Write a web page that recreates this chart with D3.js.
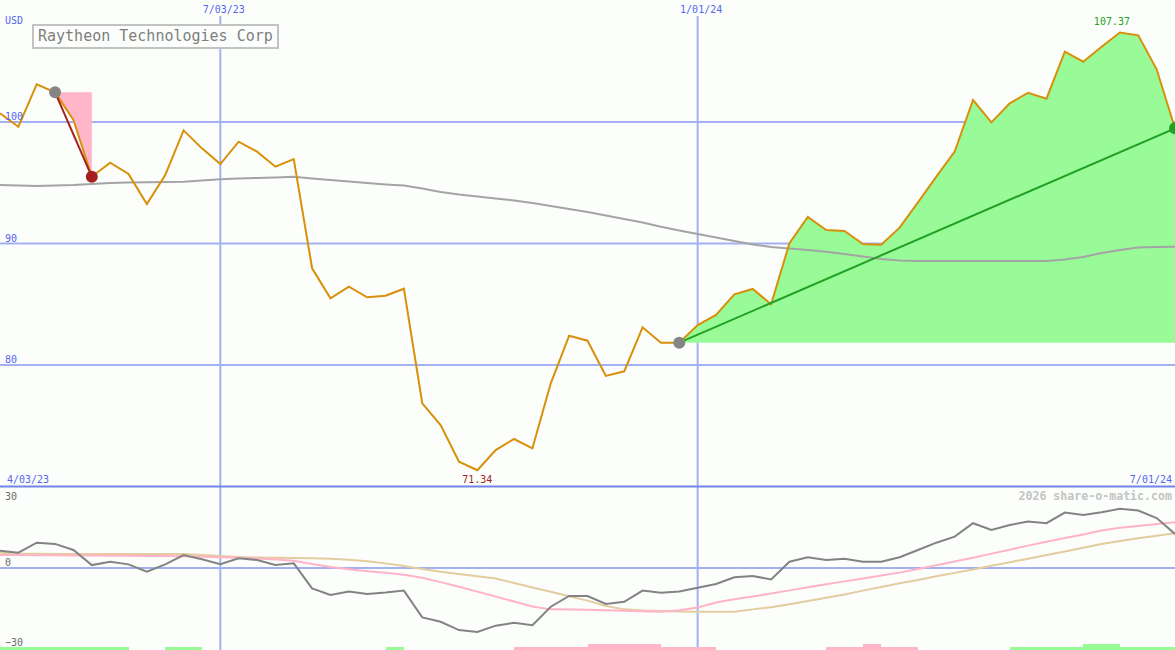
<!DOCTYPE html>
<html><head><meta charset="utf-8">
<script src="https://cdn.jsdelivr.net/npm/d3@7"></script>
<style>
html,body{margin:0;padding:0;background:#fbfefb;}
svg{display:block;}
text{font-family:"DejaVu Sans Mono","Liberation Mono",monospace;}
</style></head>
<body>
<svg id="chart" width="1175" height="650"></svg>
<script>
// ---- data (weekly, index 0..64) ----
const title = "Raytheon Technologies Corp";
const currency = "USD";
const dateLabels = ["4/03/23", "7/03/23", "1/01/24", "7/01/24"];
const dateIndex = [0, 12, 38, 64];
const priceTicks = [100, 90, 80];
const oscTicks = [30, 0, -30];

const price = [100.72, 99.61, 103.1, 102.44, 100.16, 95.5, 96.65, 95.72, 93.25, 95.64,
  99.31, 97.83, 96.54, 98.38, 97.56, 96.32, 96.95, 87.96, 85.49, 86.44,
  85.57, 85.70, 86.28, 76.85, 75.06, 72.04, 71.34, 73.0, 73.91, 73.14,
  78.49, 82.41, 82.0, 79.1, 79.48, 83.1, 81.84, 81.84, 83.29, 84.12,
  85.82, 86.26, 85.0, 90.02, 92.18, 91.11, 91.03, 89.96, 89.9, 91.3,
  93.39, 95.5, 97.56, 101.81, 99.97, 101.54, 102.41, 101.92, 105.79, 104.96,
  106.2, 107.37, 107.13, 104.34, 99.48];

const movingAvg = [94.81, 94.77, 94.73, 94.77, 94.81, 94.90, 94.98, 95.02, 95.04, 95.06,
  95.09, 95.19, 95.28, 95.35, 95.39, 95.43, 95.50, 95.35, 95.23, 95.10,
  94.98, 94.86, 94.77, 94.53, 94.24, 94.03, 93.87, 93.70, 93.54, 93.33,
  93.09, 92.84, 92.59, 92.30, 92.02, 91.73, 91.38, 91.07, 90.78, 90.49,
  90.21, 89.92, 89.71, 89.59, 89.47, 89.33, 89.14, 88.93, 88.72, 88.60,
  88.56, 88.56, 88.56, 88.56, 88.56, 88.56, 88.56, 88.56, 88.68, 88.89,
  89.22, 89.47, 89.67, 89.71, 89.74];

const momentum = [7.1, 6.3, 10.4, 9.9, 7.4, 1.2, 2.6, 1.5, -1.5, 1.5,
  5.3, 3.6, 1.6, 4.0, 3.3, 1.2, 1.9, -8.4, -11.1, -9.7,
  -10.7, -10.1, -9.3, -20.3, -22.1, -25.5, -26.3, -23.7, -22.5, -23.5,
  -15.9, -11.5, -11.5, -14.8, -13.9, -9.3, -10.2, -9.7, -8.1, -6.6,
  -3.8, -3.3, -4.7, 2.6, 4.4, 3.3, 3.8, 2.6, 2.6, 4.4,
  7.4, 10.4, 12.9, 18.4, 15.6, 17.7, 19.1, 18.4, 22.8, 21.8,
  22.9, 24.3, 23.6, 20.5, 14.0];

const signalFast = [5.3, 5.3, 5.2, 5.2, 5.1, 5.1, 5.0, 5.0, 4.9, 4.9,
  4.8, 4.6, 4.4, 4.2, 3.9, 3.5, 3.0, 1.6, 0.4, -0.5,
  -1.3, -2.0, -2.8, -4.0, -5.8, -7.7, -9.7, -11.7, -13.8, -15.8,
  -17.0, -17.1, -17.2, -17.4, -17.6, -17.8, -18.0, -17.4, -16.2, -14.2,
  -12.8, -11.7, -10.5, -9.2, -7.9, -6.7, -5.5, -4.3, -3.1, -1.9,
  -0.4, 1.1, 2.7, 4.2, 5.9, 7.5, 9.2, 10.8, 12.3, 13.8,
  15.4, 16.5, 17.3, 18.1, 18.8];

const signalSlow = [6.3, 6.0, 5.9, 5.8, 5.8, 5.8, 5.8, 5.8, 5.8, 5.8,
  5.8, 5.3, 4.9, 4.5, 4.3, 4.2, 4.1, 4.0, 3.8, 3.4,
  2.8, 1.9, 0.8, -0.4, -1.5, -2.5, -3.4, -4.3, -6.2, -8.0,
  -9.8, -11.6, -13.4, -15.6, -17.0, -17.5, -17.7, -17.9, -18.0, -18.0,
  -18.0, -17.0, -16.1, -14.9, -13.6, -12.2, -10.9, -9.3, -7.8, -6.3,
  -4.9, -3.4, -2.0, -0.6, 0.9, 2.4, 3.8, 5.3, 6.8, 8.3,
  9.9, 11.1, 12.2, 13.3, 14.3];

// weekly strength bars (one per interval): +/-1 short, +/-2 tall
const strength = [1,1,1,1,1,1,1, 0,0, 1,1, 0,0,0,0,0,0,0,0,0,0, 1, 0,0,0,0,0,0,
  -1,-1,-1,-1, -2,-2,-2,-2, -1,-1,-1, 0,0,0,0,0,0, -1,-1, -2, -1,-1, 0,0,0,0,0,
  1,1,1,1, 2,2, 1,1,1];

// trend segments: [startIndex, endIndex]
const downTrend = [3, 5];
const upTrend = [37, 64];
const lowIndex = 26;
const highIndex = 61;

// ---- drawing ----
const W = 1175, H = 650;
const svg = d3.select("#chart");
svg.append("rect").attr("width", W).attr("height", H).attr("fill", "#fbfefb");

const x = d3.scaleLinear().domain([0, price.length - 1]).range([0, W]);
const y = d3.scaleLinear().domain([80, 100]).range([365, 122]);
const yo = d3.scaleLinear().domain([-30, 30]).range([641, 495]);

const gridBlue = "#a3b1f2";
const axisBlue = "#7384ea";
const labelBlue = "#5566ee";

// vertical date grid lines (interior ones)
svg.append("g").selectAll("line").data(dateIndex.slice(1, 3)).join("line")
  .attr("x1", d => x(d)).attr("x2", d => x(d))
  .attr("y1", 16).attr("y2", H)
  .attr("stroke", gridBlue).attr("stroke-width", 2);

// horizontal price grid
svg.append("g").selectAll("line").data(priceTicks).join("line")
  .attr("x1", 0).attr("x2", W)
  .attr("y1", d => y(d)).attr("y2", d => y(d))
  .attr("stroke", gridBlue).attr("stroke-width", 2);

// oscillator zero line
svg.append("line").attr("x1", 0).attr("x2", W)
  .attr("y1", yo(0)).attr("y2", yo(0))
  .attr("stroke", gridBlue).attr("stroke-width", 2);

// separator axis
svg.append("line").attr("x1", 0).attr("x2", W)
  .attr("y1", y(70)).attr("y2", y(70))
  .attr("stroke", axisBlue).attr("stroke-width", 2);

// fills between line and start level
function trendArea(seg, color) {
  const base = price[seg[0]];
  const idx = d3.range(seg[0], seg[1] + 1);
  const area = d3.area().x(i => x(i)).y0(y(base)).y1(i => y(price[i]));
  svg.append("path").datum(idx).attr("d", area).attr("fill", color);
}
trendArea(downTrend, "#ffb6c9");
trendArea(upTrend, "#98fb98");

// moving average
const idxAll = d3.range(price.length);
svg.append("path").datum(idxAll)
  .attr("d", d3.line().x(i => x(i)).y(i => y(movingAvg[i])))
  .attr("fill", "none").attr("stroke", "#a4a4a4").attr("stroke-width", 2);

// price line
svg.append("path").datum(idxAll)
  .attr("d", d3.line().x(i => x(i)).y(i => y(price[i])))
  .attr("fill", "none").attr("stroke", "#d8900a").attr("stroke-width", 2);

// trend lines
function trendLine(seg, color) {
  svg.append("line")
    .attr("x1", x(seg[0])).attr("y1", y(price[seg[0]]))
    .attr("x2", x(seg[1])).attr("y2", y(price[seg[1]]))
    .attr("stroke", color).attr("stroke-width", 2);
}
trendLine(downTrend, "#a51f1f");
trendLine(upTrend, "#23a023");

// dots
function dot(i, color) {
  svg.append("circle").attr("cx", x(i)).attr("cy", y(price[i])).attr("r", 6).attr("fill", color);
}
dot(downTrend[0], "#858585");
dot(downTrend[1], "#a51f1f");
dot(upTrend[0], "#858585");
dot(upTrend[1], "#23a023");

// oscillator lines
svg.append("path").datum(idxAll)
  .attr("d", d3.line().x(i => x(i)).y(i => yo(signalSlow[i])))
  .attr("fill", "none").attr("stroke", "#e3cc9e").attr("stroke-width", 2);
svg.append("path").datum(idxAll)
  .attr("d", d3.line().x(i => x(i)).y(i => yo(signalFast[i])))
  .attr("fill", "none").attr("stroke", "#ffb3c8").attr("stroke-width", 2);
svg.append("path").datum(idxAll)
  .attr("d", d3.line().x(i => x(i)).y(i => yo(momentum[i])))
  .attr("fill", "none").attr("stroke", "#838383").attr("stroke-width", 2);

// strength bars
svg.append("g").selectAll("rect").data(strength.map((v, i) => ({v, i})).filter(d => d.v !== 0)).join("rect")
  .attr("x", d => x(d.i)).attr("width", d => x(d.i + 1) - x(d.i))
  .attr("y", d => H - 3 * Math.abs(d.v)).attr("height", d => 3 * Math.abs(d.v))
  .attr("fill", d => d.v > 0 ? "#98fb98" : "#ffb6c9")
  .attr("shape-rendering", "crispEdges");

// ---- texts ----
const T = svg.append("g");
T.append("text").attr("x", 5).attr("y", 24).attr("font-size", 10).attr("fill", labelBlue).text(currency);
T.selectAll(".pt").data(priceTicks).join("text").attr("class", "pt")
  .attr("x", 5).attr("y", d => y(d) - 2).attr("font-size", 10).attr("fill", labelBlue).text(d => d);

// date labels
T.append("text").attr("x", 7).attr("y", 482.5).attr("font-size", 10).attr("fill", labelBlue).text(dateLabels[0]);
T.selectAll(".dl").data([1, 2]).join("text").attr("class", "dl")
  .attr("x", k => x(dateIndex[k]) + 3.5).attr("y", 12.5).attr("text-anchor", "middle")
  .attr("font-size", 10).attr("fill", labelBlue).text(k => dateLabels[k]);
T.append("text").attr("x", 1172).attr("y", 482.5).attr("text-anchor", "end")
  .attr("font-size", 10).attr("fill", labelBlue).text(dateLabels[3]);

// oscillator ticks
T.selectAll(".ot").data(oscTicks).join("text").attr("class", "ot")
  .attr("x", 5).attr("y", (d, i) => [499.5, 565.5, 645.5][i]).attr("font-size", 10).attr("fill", "#6a6a6a")
  .text(d => d < 0 ? "\u2212" + Math.abs(d) : d);

T.append("text").attr("x", 1172).attr("y", 500).attr("text-anchor", "end")
  .attr("font-size", 11.6).attr("font-weight", "bold").attr("fill", "#c4c4c4").text("2026 share-o-matic.com");

// title box
svg.append("rect").attr("x", 33).attr("y", 25).attr("width", 245).attr("height", 23)
  .attr("fill", "#fbfefb").attr("stroke", "#c2c2c2").attr("stroke-width", 2);
svg.append("text").attr("x", 38).attr("y", 41).attr("font-size", 15).attr("fill", "#7e7e7e").text(title);

// low / high labels
svg.append("text").attr("x", x(lowIndex)).attr("y", 483).attr("text-anchor", "middle")
  .attr("font-size", 10).attr("fill", "#a51f1f").text(price[lowIndex].toFixed(2));
svg.append("text").attr("x", x(highIndex) - 8).attr("y", 25).attr("text-anchor", "middle")
  .attr("font-size", 10).attr("fill", "#23a023").text(price[highIndex].toFixed(2));
</script>
</body></html>
